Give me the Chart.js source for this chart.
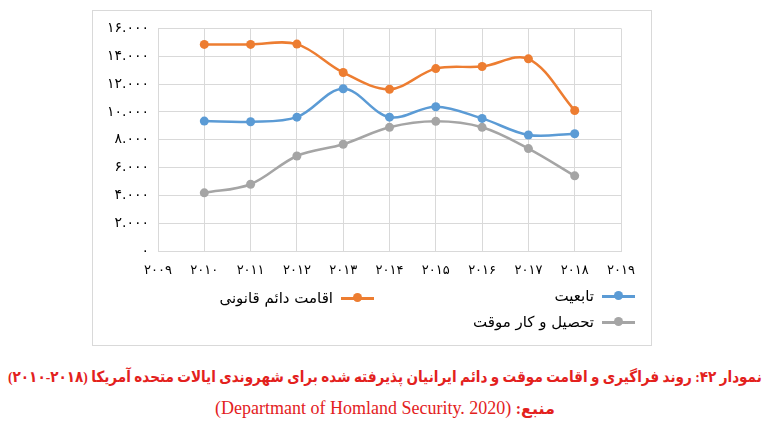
<!DOCTYPE html>
<html lang="fa">
<head>
<meta charset="utf-8">
<script src="https://cdn.jsdelivr.net/npm/chart.js@4"></script>
<style>
    html, body { margin: 0; padding: 0; background: #fff; }
    body { width: 770px; height: 440px; position: relative; overflow: hidden;
           font-family: "DejaVu Sans", "Noto Sans", sans-serif; }
    #frame { position: absolute; left: 92px; top: 10px; width: 560px; height: 336px;
             border: 1px solid #d9d9d9; box-sizing: border-box; }
    #chart { display: block; }
    .lg-item { position: absolute; height: 20px; display: flex; align-items: center;
               direction: rtl; font-size: 15px; color: #000; white-space: nowrap; }
    .lg-mark { position: relative; width: 33px; height: 20px; }
    .lg-mark i { position: absolute; left: 0; right: 0; top: 9px; height: 2.5px; }
    .lg-mark b { position: absolute; left: 12px; top: 5px; width: 9px; height: 9px; border-radius: 50%; }
    .caption { position: absolute; left: 0; width: 770px; text-align: center; direction: rtl;
               color: #e3211d; font-family: "Liberation Serif", "DejaVu Sans", serif; white-space: nowrap; }
    .caption span { display: inline-block; }
    #cap1 { position: absolute; left: 0; top: 0; transform-origin: 0 0; }
</style>
</head>
<body>
<div id="frame"><canvas id="chart" width="558" height="334"></canvas></div>
<div id="legend"></div>
<div class="caption" style="top: 368px; height: 22px; font-size: 15.5px; font-weight: bold;"><span id="cap1">نمودار ۴۲: روند فراگیری و اقامت موقت و دائم ایرانیان پذیرفته شده برای شهروندی ایالات متحده آمریکا (۲۰۱۸-۲۰۱۰)</span></div>
<div class="caption" style="top: 398px; font-size: 18px;"><span><b style="font-size:16px">منبع:</b> (Departmant of Homland Security. 2020)</span></div>
<script>
// ---- data ----
const xLabels = ['۲۰۰۹', '۲۰۱۰', '۲۰۱۱', '۲۰۱۲', '۲۰۱۳', '۲۰۱۴', '۲۰۱۵', '۲۰۱۶', '۲۰۱۷', '۲۰۱۸', '۲۰۱۹'];
const yTickLabels = ['۰', '۲.۰۰۰', '۴.۰۰۰', '۶.۰۰۰', '۸.۰۰۰', '۱۰.۰۰۰', '۱۲.۰۰۰', '۱۴.۰۰۰', '۱۶.۰۰۰'];

const seriesNames  = ['تابعیت', 'اقامت دائم قانونی', 'تحصیل و کار موقت'];
const seriesColors = ['#5b9bd5', '#ed7d31', '#a5a5a5'];

const citizenship  = [null, 9340, 9290, 9620, 11660, 9620, 10370, 9530, 8340, 8430, null];
const permanentRes = [null, 14850, 14850, 14870, 12830, 11630, 13110, 13260, 13810, 10100, null];
const temporaryRes = [null, 4180, 4800, 6830, 7670, 8890, 9320, 8890, 7360, 5400, null];

const seriesData = [citizenship, permanentRes, temporaryRes];

// ---- chart ----
const datasets = seriesNames.map((name, i) => ({
    label:            name,
    data:             seriesData[i],
    borderColor:      seriesColors[i],
    backgroundColor:  seriesColors[i],
    borderWidth:      2.5,
    pointRadius:      4.5,
    pointBorderWidth: 0,
    tension:          0.35,
    fill:             false,
}));

new Chart(document.getElementById('chart'), {
    type: 'line',
    data: { labels: xLabels, datasets },
    options: {
        responsive: false,
        animation: false,
        layout: { padding: { left: 0, right: 30, top: 16, bottom: 64 } },
        plugins: { legend: { display: false }, tooltip: { enabled: false } },
        scales: {
            x: {
                offset: false,
                grid:   { color: '#d9d9d9', drawTicks: false },
                border: { color: '#d9d9d9' },
                ticks:  { color: '#000', padding: 12, maxRotation: 0, autoSkip: false,
                          font: { size: 13, family: '"DejaVu Sans", sans-serif' } },
                afterFit: (s) => { s.height = 30; },
            },
            y: {
                min: 0, max: 16000,
                grid:   { color: '#d9d9d9', drawTicks: false },
                border: { color: '#d9d9d9' },
                ticks:  { stepSize: 2000, color: '#000', padding: 9,
                          font: { size: 14, family: '"DejaVu Sans", sans-serif' },
                          callback: (v, idx) => yTickLabels[idx] },
                afterFit: (s) => { s.width = 65; },
            },
        },
    },
});

// ---- legend, drawn as html next to the chart ----
// blue and grey sit on the right, orange on the left of the first row
const legendSpots = [
    { right: 770 - 635, top: 286 },
    { right: 770 - 374, top: 288 },
    { right: 770 - 635, top: 312 },
];
document.getElementById('legend').innerHTML = seriesNames.map((name, i) => `
    <div class="lg-item" style="right:${legendSpots[i].right}px; top:${legendSpots[i].top}px;">
        <span class="lg-mark"><i style="background:${seriesColors[i]}"></i><b style="background:${seriesColors[i]}"></b></span>
        <span style="margin-right:8px">${name}</span>
    </div>`).join('');

// squeeze the long caption line sideways so it spans the page like the original
const cap1 = document.getElementById('cap1');
const capW = cap1.getBoundingClientRect().width;
const capK = Math.min(1, 754 / capW);
cap1.style.left = ((770 - capW * capK) / 2).toFixed(1) + 'px';
cap1.style.transform = 'scaleX(' + capK.toFixed(3) + ')';
</script>
</body>
</html>
